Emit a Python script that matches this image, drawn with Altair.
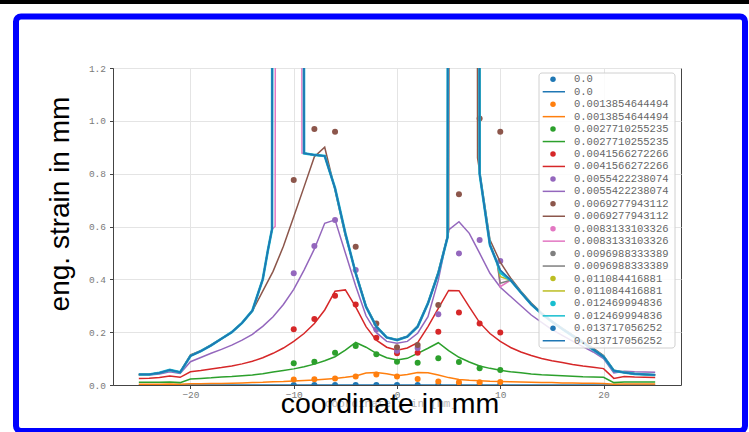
import altair as alt
import pandas as pd

COLORS = ["#1f77b4", "#ff7f0e", "#2ca02c", "#d62728", "#9467bd", "#8c564b",
          "#e377c2", "#7f7f7f", "#bcbd22", "#17becf", "#1f77b4"]
LABELS = ["0.0", "0.0013854644494", "0.0027710255235", "0.0041566272266",
          "0.0055422238074", "0.0069277943112", "0.0083133103326",
          "0.0096988333389", "0.011084416881", "0.012469994836", "0.013717056252"]

# measured points (dots)
DOT_X = [-10, -8, -6, -4, -2, 0, 2, 4, 6, 8, 10]
DOT_Y0 = [0.0, 0.0, 0.0, 0.0, 0.0, 0.0, 0.0, 0.0, 0.0, 0.0, 0.0]
DOT_Y1 = [0.021, 0.022, 0.025, 0.032, 0.040, 0.032, 0.023, 0.013, 0.010, 0.010, 0.011]
DOT_Y2 = [0.082, 0.088, 0.122, 0.148, 0.116, 0.088, 0.084, 0.101, 0.087, 0.063, 0.057]
DOT_Y3 = [0.211, 0.250, 0.338, 0.305, 0.179, 0.120, 0.122, 0.202, 0.274, 0.233, 0.199]
DOT_Y4 = [0.423, 0.526, 0.625, 0.435, 0.210, 0.130, 0.140, 0.268, 0.498, 0.549, 0.469]
DOT_Y5 = [0.776, 0.969, 0.959, 0.523, 0.233, 0.143, 0.151, 0.303, 0.722, 1.009, 0.959]

# simulated curves on the regular grid
LINE_X = [-25, -24, -23, -22, -21, -20, -19, -18, -17, -16, -15, -14, -13, -12, -11, -10,
          -9, -8, -7, -6, -5, -4, -3, -2, -1, 0, 1, 2, 3, 4, 5, 6, 7, 8, 9, 10,
          11, 12, 13, 14, 15, 16, 17, 18, 19, 20, 21, 22, 23, 24, 25]
LINE_Y0 = [0.0, 0.0, 0.0, 0.0, 0.0, 0.0, 0.0, 0.0, 0.0, 0.0, 0.0, 0.0, 0.0, 0.0, 0.0, 0.0,
           0.0, 0.0, 0.0, 0.0, 0.0, 0.0, 0.0, 0.0, 0.0, 0.0, 0.0, 0.0, 0.0, 0.0, 0.0, 0.0,
           0.0, 0.0, 0.0, 0.0, 0.0, 0.0, 0.0, 0.0, 0.0, 0.0, 0.0, 0.0, 0.0, 0.0, 0.0, 0.0,
           0.0, 0.0, 0.0]
LINE_Y1 = [0.003, 0.003, 0.003, 0.004, 0.003, 0.005, 0.005, 0.006, 0.006, 0.007, 0.008, 0.009,
           0.010, 0.012, 0.013, 0.015, 0.017, 0.019, 0.022, 0.025, 0.029, 0.034, 0.045, 0.047,
           0.043, 0.035, 0.040, 0.047, 0.046, 0.038, 0.028, 0.021, 0.018, 0.016, 0.014, 0.013,
           0.012, 0.011, 0.010, 0.009, 0.009, 0.008, 0.008, 0.007, 0.007, 0.006, 0.003, 0.004,
           0.004, 0.004, 0.004]
LINE_Y2 = [0.010, 0.010, 0.010, 0.011, 0.009, 0.023, 0.025, 0.027, 0.030, 0.032, 0.035, 0.038,
           0.043, 0.049, 0.055, 0.061, 0.069, 0.079, 0.092, 0.107, 0.132, 0.161, 0.143, 0.120,
           0.103, 0.095, 0.101, 0.120, 0.139, 0.160, 0.130, 0.105, 0.087, 0.072, 0.063, 0.056,
           0.050, 0.046, 0.042, 0.039, 0.037, 0.035, 0.033, 0.031, 0.030, 0.029, 0.009, 0.011,
           0.011, 0.011, 0.011]
LINE_Y3 = [0.025, 0.026, 0.028, 0.034, 0.029, 0.050, 0.055, 0.061, 0.066, 0.072, 0.080, 0.090,
           0.103, 0.120, 0.140, 0.165, 0.195, 0.233, 0.284, 0.355, 0.360, 0.296, 0.221, 0.170,
           0.143, 0.132, 0.140, 0.160, 0.221, 0.290, 0.358, 0.357, 0.296, 0.236, 0.195, 0.165,
           0.142, 0.125, 0.112, 0.100, 0.092, 0.085, 0.078, 0.072, 0.067, 0.062, 0.025, 0.032,
           0.030, 0.029, 0.028]
LINE_Y4 = [0.038, 0.038, 0.042, 0.050, 0.044, 0.088, 0.104, 0.120, 0.135, 0.151, 0.170, 0.192,
           0.222, 0.258, 0.305, 0.362, 0.435, 0.515, 0.612, 0.625, 0.500, 0.375, 0.262, 0.198,
           0.165, 0.158, 0.165, 0.196, 0.259, 0.397, 0.587, 0.618, 0.574, 0.499, 0.423, 0.370,
           0.335, 0.300, 0.265, 0.237, 0.210, 0.188, 0.166, 0.145, 0.125, 0.100, 0.046, 0.052,
           0.050, 0.049, 0.048]

# curves with finer nodes around the strain localisation
BROWN_X = [-25, -24, -23, -22, -21, -20, -19, -18, -17, -16, -15, -14, -13, -12, -11, -10,
           -9, -8, -7, -6, -5, -4, -3, -2, -1, 0, 1, 2, 3, 4, 5, 5.2, 7.7, 7.8, 8, 9, 10,
           11, 12, 13, 14, 15, 16, 17, 18, 19, 20, 21, 22, 23, 24, 25]
BROWN_Y = [0.040, 0.040, 0.045, 0.057, 0.049, 0.114, 0.130, 0.152, 0.176, 0.200, 0.235, 0.280,
           0.355, 0.430, 0.525, 0.637, 0.750, 0.864, 0.900, 0.738, 0.565, 0.428, 0.300, 0.224,
           0.180, 0.172, 0.185, 0.224, 0.312, 0.430, 0.580, 5.0, 5.0, 0.860, 0.810, 0.550, 0.465,
           0.405, 0.355, 0.310, 0.273, 0.242, 0.215, 0.190, 0.165, 0.140, 0.112, 0.056, 0.049,
           0.044, 0.041, 0.039]

TOP_X = [-25, -24, -23, -22, -21, -20, -19, -18, -17, -16, -15, -14, -13,
         -12.5, -12.1, -12.0, -9.1,
         -9, -8, -7, -6, -5, -4, -3, -2, -1, 0, 1, 2, 3, 4,
         4.9, 5.0, 7.9, 8, 9, 9.7,
         10, 11, 12, 13, 14, 15, 16, 17, 18, 19, 20, 21, 22, 23, 24, 25]
BLUE_Y = [0.040, 0.040, 0.046, 0.057, 0.048, 0.110, 0.128, 0.150, 0.175, 0.200, 0.235, 0.282, 0.400,
          0.510, 0.590, 5.0, 5.0,
          0.877, 0.871, 0.867, 0.745, 0.574, 0.423, 0.296, 0.221, 0.180, 0.170, 0.183, 0.221, 0.309, 0.423,
          0.560, 5.0, 5.0, 0.800, 0.530, 0.462,
          0.435, 0.397, 0.350, 0.305, 0.270, 0.240, 0.212, 0.186, 0.160, 0.134, 0.107, 0.054, 0.047,
          0.042, 0.040, 0.038]
CYAN_Y = [0.040, 0.040, 0.046, 0.057, 0.048, 0.110, 0.128, 0.150, 0.175, 0.200, 0.235, 0.282, 0.400,
          0.510, 0.590, 5.0, 5.0,
          0.877, 0.871, 0.867, 0.745, 0.574, 0.423, 0.296, 0.221, 0.180, 0.170, 0.183, 0.221, 0.309, 0.423,
          0.560, 5.0, 5.0, 0.800, 0.530, 0.462,
          0.425, 0.397, 0.350, 0.305, 0.270, 0.240, 0.212, 0.186, 0.160, 0.134, 0.107, 0.054, 0.047,
          0.042, 0.040, 0.038]
OLIVE_Y = [0.040, 0.040, 0.046, 0.057, 0.048, 0.110, 0.128, 0.150, 0.175, 0.200, 0.235, 0.282, 0.400,
           0.510, 0.590, 5.0, 5.0,
           0.877, 0.871, 0.867, 0.745, 0.574, 0.423, 0.296, 0.221, 0.180, 0.170, 0.183, 0.221, 0.309, 0.423,
           0.560, 5.0, 5.0, 0.800, 0.530, 0.462,
           0.410, 0.397, 0.350, 0.305, 0.270, 0.240, 0.212, 0.186, 0.160, 0.134, 0.107, 0.054, 0.047,
           0.042, 0.040, 0.038]
GRAY_Y = [0.040, 0.040, 0.046, 0.057, 0.048, 0.110, 0.128, 0.150, 0.175, 0.200, 0.235, 0.282, 0.400,
          0.510, 0.590, 5.0, 5.0,
          0.877, 0.871, 0.867, 0.745, 0.574, 0.423, 0.296, 0.221, 0.180, 0.170, 0.183, 0.221, 0.309, 0.423,
          0.560, 5.0, 5.0, 0.800, 0.530, 0.462,
          0.385, 0.397, 0.350, 0.305, 0.270, 0.240, 0.212, 0.186, 0.160, 0.134, 0.107, 0.054, 0.047,
          0.042, 0.040, 0.038]
PINK_X = [-25, -24, -23, -22, -21, -20, -19, -18, -17, -16, -15, -14, -13,
          -12.5, -12.1, -11.8, -11.7, -9.3, -9.2,
          -9, -8, -7, -6, -5, -4, -3, -2, -1, 0, 1, 2, 3, 4,
          4.9, 5.0, 7.9, 8, 9, 9.7,
          10, 11, 12, 13, 14, 15, 16, 17, 18, 19, 20, 21, 22, 23, 24, 25]
PINK_Y = [0.040, 0.040, 0.046, 0.057, 0.048, 0.110, 0.128, 0.150, 0.175, 0.200, 0.235, 0.282, 0.400,
          0.510, 0.590, 0.600, 5.0, 5.0, 0.878,
          0.877, 0.871, 0.867, 0.745, 0.574, 0.423, 0.296, 0.221, 0.180, 0.170, 0.183, 0.221, 0.309, 0.423,
          0.560, 5.0, 5.0, 0.800, 0.530, 0.465,
          0.372, 0.397, 0.350, 0.305, 0.270, 0.240, 0.212, 0.186, 0.160, 0.134, 0.107, 0.054, 0.047,
          0.042, 0.040, 0.038]

DOTS = [(DOT_X, DOT_Y0), (DOT_X, DOT_Y1), (DOT_X, DOT_Y2), (DOT_X, DOT_Y3),
        (DOT_X, DOT_Y4), (DOT_X, DOT_Y5), None, None, None, None, None]
LINES = [(LINE_X, LINE_Y0), (LINE_X, LINE_Y1), (LINE_X, LINE_Y2), (LINE_X, LINE_Y3),
         (LINE_X, LINE_Y4), (BROWN_X, BROWN_Y), (PINK_X, PINK_Y), (TOP_X, GRAY_Y),
         (TOP_X, OLIVE_Y), (TOP_X, CYAN_Y), (TOP_X, BLUE_Y)]
LINE_W = [1.5, 1.5, 1.5, 1.5, 1.5, 1.5, 1.5, 1.5, 1.5, 2.6, 1.8]

W, H = 568, 317
OX, OY = 113, 68  # plot origin inside the slide

MONO = "Liberation Mono"

x_enc = alt.X("x:Q",
              scale=alt.Scale(domain=[-27.5, 27.5], nice=False, zero=False),
              axis=alt.Axis(values=[-20, -10, 0, 10, 20], format="d", title=None,
                            grid=True, gridColor="#e4e4e4", domainColor="#444",
                            tickColor="#444", tickSize=3.5, labelFont=MONO,
                            labelFontSize=9.5, labelColor="#7a7a7a", labelPadding=1))
y_enc = alt.Y("y:Q",
              scale=alt.Scale(domain=[0, 1.2], nice=False, zero=False),
              axis=alt.Axis(values=[0, 0.2, 0.4, 0.6, 0.8, 1.0, 1.2], format=".1f", title=None,
                            grid=True, gridColor="#e4e4e4", domainColor="#444",
                            tickColor="#444", tickSize=3.5, labelFont=MONO,
                            labelFontSize=9.5, labelColor="#7a7a7a", labelPadding=4))

layers = []
for i in range(11):
    if DOTS[i] is not None:
        dx, dy = DOTS[i]
        ddf = pd.DataFrame({"x": dx, "y": dy})
        layers.append(alt.Chart(ddf).mark_point(filled=True, size=36, opacity=1,
                                                 color=COLORS[i], clip=True)
                      .encode(x=x_enc, y=y_enc))
    lx, ly = LINES[i]
    ldf = pd.DataFrame({"x": lx, "y": ly})
    layers.append(alt.Chart(ldf).mark_line(color=COLORS[i], strokeWidth=LINE_W[i], clip=True)
                  .encode(x=x_enc, y=y_enc))

one = pd.DataFrame({"a": [1]})

# legend (matplotlib style, alternating dot / line entries)
leg_rows = []
for i in range(11):
    leg_rows.append({"row": 2 * i, "kind": "dot", "label": LABELS[i], "color": COLORS[i]})
    leg_rows.append({"row": 2 * i + 1, "kind": "line", "label": LABELS[i], "color": COLORS[i]})
leg_df = pd.DataFrame(leg_rows)
leg_base = alt.Chart(leg_df).transform_calculate(py="11.3 + datum.row * 12.45")

legend_box = alt.Chart(one).mark_rect(fill="white", fillOpacity=0.85, stroke="#d0d0d0",
                                      strokeWidth=1, cornerRadius=3).encode(
    x=alt.value(426), x2=alt.value(562), y=alt.value(5), y2=alt.value(280))
legend_dots = leg_base.transform_filter("datum.kind == 'dot'").mark_point(
    filled=True, size=30, opacity=1).encode(
    x=alt.value(440), y=alt.Y("py:Q", scale=None),
    color=alt.Color("color:N", scale=None))
legend_lines = leg_base.transform_filter("datum.kind == 'line'").mark_rule(
    strokeWidth=1.5).encode(
    x=alt.value(429.7), x2=alt.value(452), y=alt.Y("py:Q", scale=None),
    color=alt.Color("color:N", scale=None))
legend_text = leg_base.mark_text(align="left", baseline="middle", font=MONO,
                                 fontSize=10.5, color="#666").encode(
    x=alt.value(461), y=alt.Y("py:Q", scale=None), text="label:N")

# slide decorations and overlaid axis titles
small_xlabel = alt.Chart(one).mark_text(font=MONO, fontSize=11, color="#b8b8b8",
                                        align="center", baseline="alphabetic").encode(
    x=alt.value(391 - OX), y=alt.value(407 - OY), text=alt.value("coordinate x in [mm]"))
big_xlabel = alt.Chart(one).mark_text(font="Liberation Sans", fontSize=28.5, color="black",
                                      align="center", baseline="alphabetic").encode(
    x=alt.value(390 - OX), y=alt.value(413 - OY), text=alt.value("coordinate in mm"))
big_ylabel = alt.Chart(one).mark_text(font="Liberation Sans", fontSize=28, color="black",
                                      align="center", baseline="alphabetic", angle=270).encode(
    x=alt.value(69 - OX), y=alt.value(204 - OY), text=alt.value("eng. strain in mm"))
top_bar = alt.Chart(one).mark_rect(color="black").encode(
    x=alt.value(-OX), x2=alt.value(749 - OX), y=alt.value(-OY), y2=alt.value(4 - OY))
frame = alt.Chart(one).mark_rect(filled=False, color="#0000ff", strokeWidth=6,
                                 cornerRadius=5).encode(
    x=alt.value(16 - OX), x2=alt.value(745 - OX),
    y=alt.value(16.5 - OY), y2=alt.value(431 - OY))

chart = alt.layer(*layers, legend_box, legend_lines, legend_dots, legend_text,
                  small_xlabel, big_xlabel, big_ylabel, top_bar, frame).properties(
    width=W, height=H,
    autosize=alt.AutoSizeParams(type="none"),
    padding={"left": OX, "top": OY, "right": 749 - OX - W, "bottom": 432 - OY - H},
    background="white",
).configure_view(stroke="#444", strokeWidth=1)

chart.save("out.html", embed_options={"renderer": "svg", "actions": False})
